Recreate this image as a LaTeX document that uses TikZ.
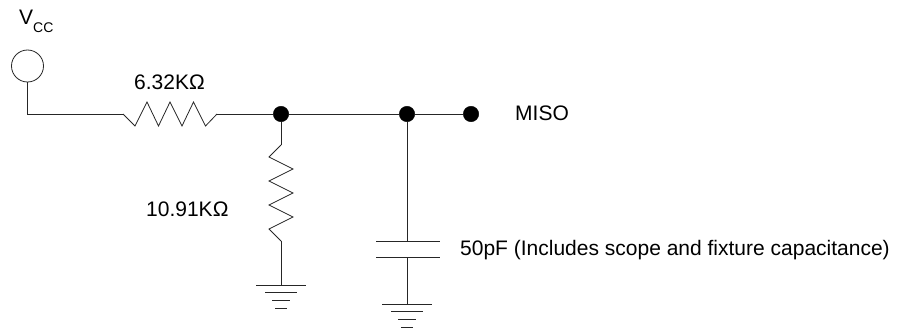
\documentclass[tikz,border=0pt]{standalone}
\usepackage{fontspec}
\setmainfont{Liberation Sans}
\usetikzlibrary{positioning}
\tikzset{
  wire/.style={line width=0.8pt,black!85},
  junction/.style={fill=black,draw=black,circle,inner sep=0pt,minimum size=15.5pt},
  lbl/.style={font=\fontsize{21}{24}\selectfont,inner sep=0pt,anchor=base west},
  gnd/.pic={
    \draw[wire] (-25,0) -- (25,0);
    \draw[wire] (-16,7.5) -- (16,7.5);
    \draw[wire] (-9,15) -- (9,15);
    \draw[wire] (-6,23) -- (6,23);
  }
}
\begin{document}
\begin{tikzpicture}[x=1pt,y=-1pt]
\useasboundingbox (0,0) rectangle (897,329);
\node[draw=black!85,line width=0.8pt,circle,inner sep=0pt,minimum size=32pt] (vcc) at (27.5,66) {};
\coordinate (bend) at (27.5,114);
\coordinate (r1a) at (123,114);
\coordinate (r1b) at (217,114);
\node[junction] (j1) at (281,114) {};
\node[junction] (j2) at (407,114) {};
\node[junction] (miso) at (471,114) {};
\coordinate (r2a) at (281,145);
\coordinate (r2b) at (281,241);
\coordinate (g1) at (281,285);
\coordinate (c1a) at (407,241);
\coordinate (c1b) at (407,257);
\coordinate (g2) at (407,304);
% wires
\draw[wire] (vcc) -- (bend) -- (r1a);
\draw[wire] (r1b) -- (j1) -- (j2) -- (miso);
\draw[wire] (j1) -- (r2a);
\draw[wire] (r2b) -- (g1);
\draw[wire] (j2) -- (c1a);
\draw[wire] (c1b) -- (g2);
% resistors
\draw[wire] (r1a) -- (135,126) -- (147,102) -- (158.5,126) -- (170,102) -- (182,126) -- (193.5,102) -- (205.5,126) -- (r1b);
\draw[wire] (r2a) -- (269,157) -- (293,169) -- (269,181) -- (293,193) -- (269,205) -- (293,217) -- (269,229) -- (r2b);
% capacitor
\draw[wire] (376,241) -- (440,241);
\draw[wire] (376,257) -- (440,257);
% grounds
\pic at (g1) {gnd};
\pic at (g2) {gnd};
% labels
\node[lbl] (vcclabel) at (19,25) {V\raisebox{-8pt}{\fontsize{14}{16}\selectfont CC}};
\node[lbl] (r1label) at (134,89) {6.32KΩ};
\node[lbl] (r2label) at (146,216) {10.91KΩ};
\node[lbl] (misolabel) at (515,121) {MISO};
\node[lbl] (c1label) at (460,255) {50pF (Includes scope and fixture capacitance)};
\end{tikzpicture}
\end{document}
